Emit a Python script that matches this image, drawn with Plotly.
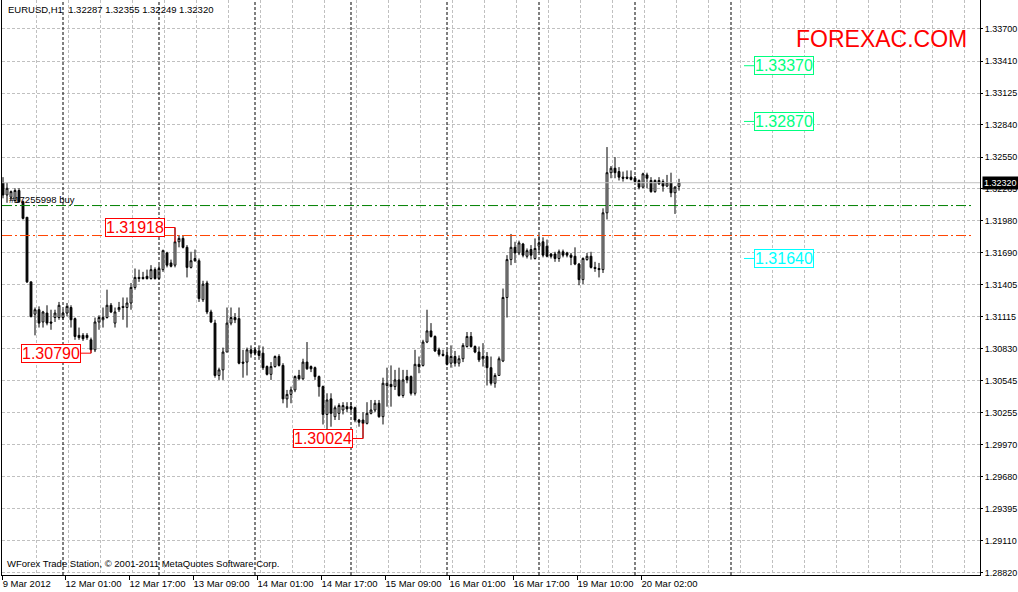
import plotly.graph_objects as go

# ---------------- data ----------------
header_text = "EURUSD,H1  1.32287 1.32355 1.32249 1.32320"
footer_text = "WForex Trade Station, \u00a9 2001-2011 MetaQuotes Software Corp."
brand_text = "FOREXAC.COM"
order_text = "#17255998 buy"

opens = [
    1.3232, 1.3221, 1.3219, 1.3216, 1.3225, 1.3215, 1.3201, 1.3143, 1.3114, 1.3118,
    1.3107, 1.3115, 1.3107, 1.3111, 1.3111, 1.3111, 1.3115, 1.3120, 1.3110, 1.3095,
    1.3095, 1.3095, 1.3091, 1.3082, 1.3107, 1.3109, 1.3111, 1.3122, 1.3106, 1.3118,
    1.3121, 1.3120, 1.3124, 1.3138, 1.3147, 1.3147, 1.3148, 1.3146, 1.3154, 1.3146,
    1.3154, 1.3169, 1.3160, 1.3158, 1.3179, 1.3182, 1.3174, 1.3156, 1.3164, 1.3162,
    1.3127, 1.3142, 1.3116, 1.3106, 1.3059, 1.3064, 1.3080, 1.3106, 1.3111, 1.3110,
    1.3071, 1.3071, 1.3082, 1.3082, 1.3081, 1.3079, 1.3067, 1.3060, 1.3067, 1.3076,
    1.3068, 1.3038, 1.3042, 1.3046, 1.3059, 1.3056, 1.3071, 1.3067, 1.3066, 1.3058,
    1.3049, 1.3024, 1.3038, 1.3022, 1.3025, 1.3028, 1.3031, 1.3031, 1.3030, 1.3019,
    1.3019, 1.3016, 1.3025, 1.3028, 1.3034, 1.3022, 1.3050, 1.3051, 1.3049, 1.3055,
    1.3041, 1.3058, 1.3058, 1.3043, 1.3069, 1.3068, 1.3089, 1.3099, 1.3094, 1.3082,
    1.3078, 1.3077, 1.3070, 1.3076, 1.3070, 1.3074, 1.3085, 1.3094, 1.3085, 1.3080,
    1.3074, 1.3076, 1.3066, 1.3052, 1.3059, 1.3072, 1.3129, 1.3163, 1.3174, 1.3169,
    1.3177, 1.3166, 1.3172, 1.3164, 1.3175, 1.3179, 1.3175, 1.3168, 1.3168, 1.3164,
    1.3170, 1.3169, 1.3167, 1.3166, 1.3159, 1.3145, 1.3163, 1.3166, 1.3156, 1.3155,
    1.3154, 1.3205, 1.3241, 1.3245, 1.3242, 1.3237, 1.3237, 1.3237, 1.3236, 1.3234,
    1.3228, 1.3239, 1.3234, 1.3224, 1.3234, 1.3233, 1.3229, 1.3232, 1.3223, 1.32287,
]
highs = [
    1.3237, 1.3232, 1.3225, 1.3227, 1.3227, 1.3216, 1.3201, 1.3143, 1.3120, 1.3121,
    1.3117, 1.3122, 1.3118, 1.3118, 1.3125, 1.3118, 1.3124, 1.3122, 1.3111, 1.3102,
    1.3097, 1.3097, 1.3093, 1.3111, 1.3113, 1.3120, 1.3136, 1.3124, 1.3120, 1.3125,
    1.3129, 1.3129, 1.3142, 1.3155, 1.3154, 1.3152, 1.3154, 1.3158, 1.3156, 1.3158,
    1.3172, 1.3170, 1.3163, 1.31918, 1.3185, 1.3185, 1.3176, 1.3170, 1.3172, 1.3164,
    1.3144, 1.3144, 1.3118, 1.3109, 1.3066, 1.3084, 1.3120, 1.3120, 1.3115, 1.3120,
    1.3082, 1.3084, 1.3086, 1.3084, 1.3086, 1.3085, 1.3068, 1.3071, 1.3077, 1.3078,
    1.3070, 1.3046, 1.3049, 1.3059, 1.3064, 1.3074, 1.3089, 1.3068, 1.3067, 1.3059,
    1.3050, 1.3043, 1.3043, 1.3032, 1.3034, 1.3035, 1.3035, 1.3035, 1.3031, 1.3020,
    1.3026, 1.3035, 1.3037, 1.3037, 1.3037, 1.3057, 1.3066, 1.3068, 1.3064, 1.3066,
    1.3064, 1.3064, 1.3059, 1.3082, 1.3076, 1.3091, 1.3118, 1.3106, 1.3095, 1.3084,
    1.3082, 1.3082, 1.3086, 1.3081, 1.3077, 1.3088, 1.3098, 1.3098, 1.3086, 1.3085,
    1.3088, 1.3080, 1.3076, 1.3061, 1.3076, 1.3137, 1.3167, 1.3186, 1.3179, 1.3180,
    1.3178, 1.3173, 1.3176, 1.3182, 1.3185, 1.3183, 1.3181, 1.3169, 1.3170, 1.3172,
    1.3172, 1.3170, 1.3169, 1.3174, 1.3160, 1.3165, 1.3169, 1.3170, 1.3161, 1.3160,
    1.3209, 1.3264, 1.3247, 1.3255, 1.3246, 1.3242, 1.3243, 1.3243, 1.3238, 1.3235,
    1.3241, 1.3241, 1.3237, 1.3235, 1.3237, 1.3235, 1.3239, 1.3241, 1.3229, 1.32355,
]
lows = [
    1.3218, 1.3214, 1.3216, 1.3214, 1.3214, 1.3199, 1.3142, 1.3111, 1.3095, 1.3102,
    1.3102, 1.3104, 1.3100, 1.3107, 1.3109, 1.3109, 1.3112, 1.3102, 1.3091, 1.3091,
    1.3090, 1.3091, 1.30790, 1.3080, 1.3100, 1.3102, 1.3110, 1.3115, 1.3102, 1.3116,
    1.3109, 1.3102, 1.3118, 1.3136, 1.3143, 1.3145, 1.3145, 1.3145, 1.3145, 1.3145,
    1.3152, 1.3156, 1.3156, 1.3156, 1.3174, 1.3173, 1.3147, 1.3155, 1.3161, 1.3125,
    1.3125, 1.3114, 1.3106, 1.3057, 1.3055, 1.3055, 1.3080, 1.3104, 1.3106, 1.3069,
    1.3057, 1.3059, 1.3075, 1.3077, 1.3073, 1.3064, 1.3059, 1.3055, 1.3066, 1.3067,
    1.3034, 1.3030, 1.3034, 1.3044, 1.3055, 1.3055, 1.3064, 1.3062, 1.3055, 1.3040,
    1.3015, 1.3010, 1.3013, 1.3019, 1.3019, 1.3024, 1.3026, 1.3026, 1.3017, 1.3013,
    1.30024, 1.3015, 1.3024, 1.3026, 1.3021, 1.3015, 1.3031, 1.3031, 1.3046, 1.3040,
    1.3039, 1.3052, 1.3041, 1.3041, 1.3061, 1.3067, 1.3088, 1.3093, 1.3080, 1.3076,
    1.3076, 1.3068, 1.3066, 1.3067, 1.3067, 1.3071, 1.3084, 1.3084, 1.3079, 1.3071,
    1.3067, 1.3050, 1.3050, 1.3048, 1.3059, 1.3071, 1.3111, 1.3158, 1.3160, 1.3167,
    1.3165, 1.3164, 1.3163, 1.3163, 1.3169, 1.3165, 1.3165, 1.3164, 1.3161, 1.3161,
    1.3165, 1.3165, 1.3158, 1.3158, 1.3140, 1.3141, 1.3162, 1.3155, 1.3152, 1.3147,
    1.3151, 1.3199, 1.3236, 1.3236, 1.3234, 1.3233, 1.3235, 1.3234, 1.3232, 1.3226,
    1.3227, 1.3227, 1.3223, 1.3223, 1.3230, 1.3224, 1.3228, 1.3219, 1.3204, 1.32249,
]
closes = [
    1.3221, 1.3227, 1.3224, 1.3225, 1.3215, 1.3200, 1.3143, 1.3112, 1.3118, 1.3106,
    1.3116, 1.3106, 1.3106, 1.3115, 1.3122, 1.3115, 1.3121, 1.3109, 1.3094, 1.3093,
    1.3092, 1.3093, 1.3082, 1.3107, 1.3111, 1.3111, 1.3122, 1.3116, 1.3116, 1.3120,
    1.3120, 1.3124, 1.3138, 1.3147, 1.3146, 1.3146, 1.3146, 1.3154, 1.3146, 1.3155,
    1.3171, 1.3158, 1.3157, 1.3179, 1.3182, 1.3174, 1.3156, 1.3162, 1.3162, 1.3128,
    1.3141, 1.3116, 1.3107, 1.3059, 1.3064, 1.3080, 1.3106, 1.3111, 1.3109, 1.3070,
    1.3070, 1.3082, 1.3079, 1.3079, 1.3077, 1.3066, 1.3060, 1.3067, 1.3076, 1.3068,
    1.3038, 1.3042, 1.3046, 1.3058, 1.3056, 1.3071, 1.3065, 1.3065, 1.3058, 1.3049,
    1.3024, 1.3037, 1.3025, 1.3030, 1.3032, 1.3032, 1.3029, 1.3029, 1.3019, 1.3017,
    1.3016, 1.3025, 1.3028, 1.3034, 1.3022, 1.3052, 1.3052, 1.3049, 1.3055, 1.3041,
    1.3055, 1.3055, 1.3043, 1.3069, 1.3067, 1.3089, 1.3099, 1.3094, 1.3081, 1.3078,
    1.3077, 1.3069, 1.3076, 1.3070, 1.3074, 1.3086, 1.3094, 1.3085, 1.3080, 1.3073,
    1.3076, 1.3066, 1.3052, 1.3059, 1.3074, 1.3129, 1.3163, 1.3174, 1.3169, 1.3178,
    1.3167, 1.3171, 1.3167, 1.3173, 1.3178, 1.3167, 1.3166, 1.3166, 1.3164, 1.3170,
    1.3167, 1.3167, 1.3165, 1.3159, 1.3145, 1.3164, 1.3166, 1.3156, 1.3155, 1.3154,
    1.3205, 1.3241, 1.3245, 1.3241, 1.3237, 1.3236, 1.3236, 1.3235, 1.3233, 1.3228,
    1.3240, 1.3236, 1.3224, 1.3234, 1.3231, 1.3229, 1.3232, 1.3223, 1.3228, 1.32320,
]

x_tick_bars = [0, 16, 32, 48, 64, 80, 96, 112, 128, 144, 160]
x_tick_labels = ["9 Mar 2012", "12 Mar 01:00", "12 Mar 17:00", "13 Mar 09:00",
                 "14 Mar 01:00", "14 Mar 17:00", "15 Mar 09:00", "16 Mar 01:00",
                 "16 Mar 17:00", "19 Mar 10:00", "20 Mar 02:00"]
day_separator_bars = [15, 39, 63, 87, 111, 134, 158, 182]

y_tick_values = [1.33700, 1.33410, 1.33125, 1.32840, 1.32550, 1.32265, 1.31980,
                 1.31690, 1.31405, 1.31115, 1.30830, 1.30545, 1.30255, 1.29970,
                 1.29680, 1.29395, 1.29110, 1.28820]

swing_bars = [43, 22, 90]
swing_prices = [1.31918, 1.30790, 1.30024]
swing_is_high = [True, False, False]

target_prices = [1.33370, 1.32870, 1.31640]
target_colors = ["#00FF7F", "#00FF7F", "#00FFFF"]

current_price = 1.32320
order_price = 1.32115
stop_price = 1.31846

# ---------------- style / layout constants ----------------
FONT = "Liberation Sans, Arial, sans-serif"
GRID = "#C0C0C0"
X_RANGE = [-0.25, 244.25]          # 4 px per bar
Y_RANGE = [1.28799, 1.33960]
TARGET_BAR = 187.75                # left edge of target boxes
PX_PER_BAR = 4.0

bars = list(range(len(closes)))

fig = go.Figure()

# order comment text (under candles)
fig.add_trace(go.Scatter(
    x=[1.5], y=[order_price], mode="text", text=[order_text],
    textposition="top right", textfont=dict(family=FONT, size=9.5, color="black"),
    hoverinfo="skip", showlegend=False))

fig.add_trace(go.Candlestick(
    x=bars, open=opens, high=highs, low=lows, close=closes,
    increasing=dict(fillcolor="white", line=dict(color="black", width=1)),
    decreasing=dict(fillcolor="black", line=dict(color="black", width=1)),
    whiskerwidth=0, hoverinfo="skip", showlegend=False))

# invisible trace for the label axis
fig.add_trace(go.Scatter(x=[0], y=[current_price], xaxis="x2", mode="markers",
                         marker=dict(opacity=0), hoverinfo="skip", showlegend=False))

shapes = []
for b in day_separator_bars:
    shapes.append(dict(type="line", xref="x", yref="paper", x0=b, x1=b, y0=0, y1=1,
                       line=dict(color="black", width=1, dash="3px,2px"), layer="above"))
shapes.append(dict(type="line", xref="paper", yref="y", x0=0, x1=1,
                   y0=current_price, y1=current_price, line=dict(color=GRID, width=1)))
shapes.append(dict(type="line", xref="paper", yref="y", x0=0, x1=0.9928,
                   y0=order_price, y1=order_price,
                   line=dict(color="#008000", width=1, dash="10px,3px,2px,3px")))
shapes.append(dict(type="line", xref="paper", yref="y", x0=0, x1=0.9928,
                   y0=stop_price, y1=stop_price,
                   line=dict(color="#FF4500", width=1, dash="10px,3px,2px,3px")))

annotations = []
for b, p, hi in zip(swing_bars, swing_prices, swing_is_high):
    gap = 10 / PX_PER_BAR
    shapes.append(dict(type="line", xref="x", yref="y", x0=b - gap, x1=b, y0=p, y1=p,
                       line=dict(color="red", width=1)))
    edge = max(opens[b], closes[b]) if hi else min(opens[b], closes[b])
    shapes.append(dict(type="line", xref="x", yref="y", x0=b, x1=b, y0=p, y1=edge,
                       line=dict(color="red", width=1)))
    annotations.append(dict(x=b - gap, y=p, xref="x", yref="y", text=f"{p:.5f}",
                            showarrow=False, xanchor="right", yanchor="middle",
                            font=dict(family=FONT, size=16, color="red"),
                            bgcolor="white", bordercolor="red", borderwidth=1, borderpad=0))

for p, c in zip(target_prices, target_colors):
    shapes.append(dict(type="line", xref="x", yref="y", x0=TARGET_BAR - 10 / PX_PER_BAR,
                       x1=TARGET_BAR, y0=p, y1=p, line=dict(color=c, width=1)))
    annotations.append(dict(x=TARGET_BAR, y=p, xref="x", yref="y", text=f"{p:.5f}",
                            showarrow=False, xanchor="left", yanchor="middle",
                            font=dict(family=FONT, size=16, color=c),
                            bgcolor="white", bordercolor=c, borderwidth=1, borderpad=0))

annotations.append(dict(x=0, y=1, xref="paper", yref="paper", text=header_text,
                        showarrow=False, xanchor="left", yanchor="top", xshift=4, yshift=-2,
                        font=dict(family=FONT, size=9.5, color="black")))
annotations.append(dict(x=0, y=0, xref="paper", yref="paper", text=footer_text,
                        showarrow=False, xanchor="left", yanchor="bottom", xshift=3, yshift=4,
                        font=dict(family=FONT, size=9.5, color="black")))
annotations.append(dict(x=0.9888, y=0.933, xref="paper", yref="paper", text=brand_text,
                        showarrow=False, xanchor="right", yanchor="middle",
                        font=dict(family=FONT, size=23, color="red")))
annotations.append(dict(x=1, y=current_price, xref="paper", yref="y", text=f"{current_price:.5f}",
                        showarrow=False, xanchor="left", yanchor="middle", xshift=2,
                        font=dict(family=FONT, size=9, color="white"),
                        bgcolor="black", borderpad=1))

fig.update_layout(
    width=1018, height=592,
    margin=dict(l=2, r=38, t=0, b=17, autoexpand=False),
    paper_bgcolor="white", plot_bgcolor="white",
    showlegend=False, boxgap=0.35, hovermode=False,
    font=dict(family=FONT, size=9.5, color="black"),
    xaxis=dict(range=X_RANGE, tickvals=[8 * k + 0.25 for k in range(1, 31)],
               showticklabels=False, ticks="", showgrid=True, gridcolor=GRID,
               griddash="3px,2px", gridwidth=1, showline=True, linecolor="black",
               linewidth=1, zeroline=False, rangeslider=dict(visible=False),
               automargin=False),
    xaxis2=dict(overlaying="x", anchor="y", side="bottom", range=X_RANGE,
                tickvals=[max(b - 0.5, -0.2) for b in x_tick_bars], ticktext=x_tick_labels,
                ticks="outside", ticklen=4, tickcolor="black", showgrid=False,
                showline=False, zeroline=False, ticklabelposition="outside right",
                tickangle=0, automargin=False,
                tickfont=dict(family=FONT, size=9.5, color="black")),
    yaxis=dict(side="right", range=Y_RANGE, tickvals=y_tick_values,
               ticktext=[f"{v:.5f}" for v in y_tick_values], ticks="outside",
               ticklen=2, tickcolor="black", showgrid=True, gridcolor=GRID,
               griddash="3px,2px", showline=True, mirror=True, linecolor="black",
               linewidth=1, zeroline=False, automargin=False,
               tickfont=dict(family=FONT, size=9, color="black")),
    shapes=shapes, annotations=annotations,
)

fig.write_html("out.html", config={"displayModeBar": False},
               post_script="document.body.style.margin='0';")
